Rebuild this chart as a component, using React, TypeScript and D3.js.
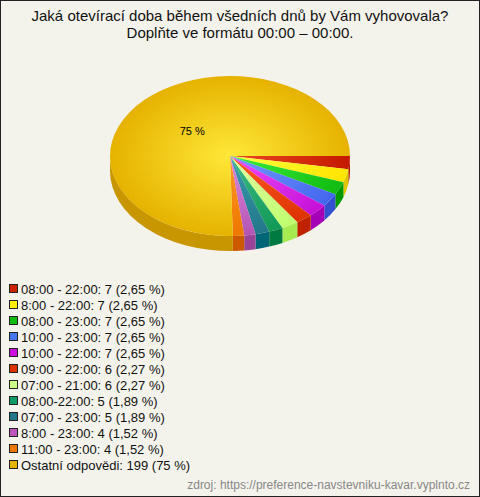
import React from "react";
import * as d3 from "d3";

const titleLines = [
  "Jaká otevírací doba během všedních dnů by Vám vyhovovala?",
  "Doplňte ve formátu 00:00 – 00:00.",
];
const categories = [
  "08:00 - 22:00",
  "8:00 - 22:00",
  "08:00 - 23:00",
  "10:00 - 23:00",
  "10:00 - 22:00",
  "09:00 - 22:00",
  "07:00 - 21:00",
  "08:00-22:00",
  "07:00 - 23:00",
  "8:00 - 23:00",
  "11:00 - 23:00",
  "Ostatní odpovědi",
];
const counts = [7, 7, 7, 7, 7, 6, 6, 5, 5, 4, 4, 199];
const percentLabels = ["2,65", "2,65", "2,65", "2,65", "2,65", "2,27", "2,27", "1,89", "1,89", "1,52", "1,52", "75"];
const legendColors = ["#cc2200", "#ffee00", "#11bb11", "#4477ee", "#cc11dd", "#dd3300", "#ccff88", "#119966", "#227788", "#bb55bb", "#ee7700", "#e6b400"];
const topLight = ["#ea4a1e", "#ffff40", "#3cee3c", "#6e9cff", "#ee4cff", "#ff5a26", "#e0ffa0", "#3cbb88", "#3a9caf", "#dd8ade", "#ff9a26", "#ffe838"];
const topDark = ["#c41800", "#ffe400", "#11bb11", "#4466ee", "#c511d6", "#dd3300", "#c0ff70", "#119955", "#227788", "#b455b4", "#ee7700", "#e6b200"];
const sideColors = ["#b41500", "#e0c400", "#009a00", "#3350d0", "#a600b6", "#c02200", "#a6ec50", "#007a40", "#006677", "#994499", "#cc5800", "#c89600"];
const sourceText = "zdroj: https://preference-navstevniku-kavar.vyplnto.cz";

const W = 480;
const H = 497;
const cx = 230;
const cy = 156;
const rx = 120;
const ry = 80;
const depth = 15;

export default function App() {
  const pie = d3
    .pie<number>()
    .sort(null)
    .startAngle(0)
    .endAngle(2 * Math.PI)(counts);

  const px = (t: number) => cx + rx * Math.cos(t);
  const py = (t: number) => cy + ry * Math.sin(t);

  const topPath = (a0: number, a1: number) => {
    const large = a1 - a0 > Math.PI ? 1 : 0;
    return `M${cx},${cy}L${px(a0)},${py(a0)}A${rx},${ry} 0 ${large} 1 ${px(a1)},${py(a1)}Z`;
  };
  const sidePath = (a0: number, a1: number) => {
    const s = Math.max(a0, 0);
    const e = Math.min(a1, Math.PI);
    if (e <= s) return null;
    return `M${px(s)},${py(s)}A${rx},${ry} 0 0 1 ${px(e)},${py(e)}L${px(e)},${py(e) + depth}A${rx},${ry} 0 0 0 ${px(s)},${py(s) + depth}Z`;
  };

  const big = pie[pie.length - 1];
  const mid = (big.startAngle + big.endAngle) / 2;
  const lf = 0.44;
  const legendY = d3.scaleLinear().domain([0, categories.length - 1]).range([289, 465]);
  const font = "'Liberation Sans', Arial, sans-serif";

  return (
    <svg width={W} height={H} style={{ position: "absolute", left: 0, top: 0 }} fontFamily={font}>
      <defs>
        {pie.map((d, i) => (
          <radialGradient
            key={i}
            id={`g${i}`}
            gradientUnits="userSpaceOnUse"
            cx={cx}
            cy={cy}
            r={rx}
            gradientTransform={`translate(${cx},${cy}) scale(1,${ry / rx}) translate(${-cx},${-cy})`}
          >
            <stop offset="0" stopColor={topLight[i]} />
            <stop offset="1" stopColor={topDark[i]} />
          </radialGradient>
        ))}
      </defs>
      <rect x={0.5} y={0.5} width={W - 1} height={H - 1} fill="#f4f3eb" stroke="#222" strokeWidth={1} />
      {titleLines.map((t, i) => (
        <text key={i} x={240} y={21 + i * 17} textAnchor="middle" fontSize={15} fill="#111">
          {t}
        </text>
      ))}
      <g>
        {pie.map((d, i) => {
          const p = sidePath(d.startAngle, d.endAngle);
          return p ? <path key={i} d={p} fill={sideColors[i]} /> : null;
        })}
        {pie.map((d, i) => (
          <path key={i} d={topPath(d.startAngle, d.endAngle)} fill={`url(#g${i})`} />
        ))}
        <text x={cx + rx * lf * Math.cos(mid)} y={cy + ry * lf * Math.sin(mid) + 4} textAnchor="middle" fontSize={11} fill="#000">
          75 %
        </text>
      </g>
      <g>
        {categories.map((c, i) => (
          <g key={i}>
            <rect x={9.5} y={legendY(i) - 4.5} width={8} height={8} fill={legendColors[i]} stroke="#222" strokeWidth={1} />
            <text x={21} y={legendY(i) + 4.5} fontSize={13} fill="#111">
              {`${c}: ${counts[i]} (${percentLabels[i]} %)`}
            </text>
          </g>
        ))}
      </g>
      <text x={470} y={489} textAnchor="end" fontSize={12} fill="#888">
        {sourceText}
      </text>
    </svg>
  );
}
